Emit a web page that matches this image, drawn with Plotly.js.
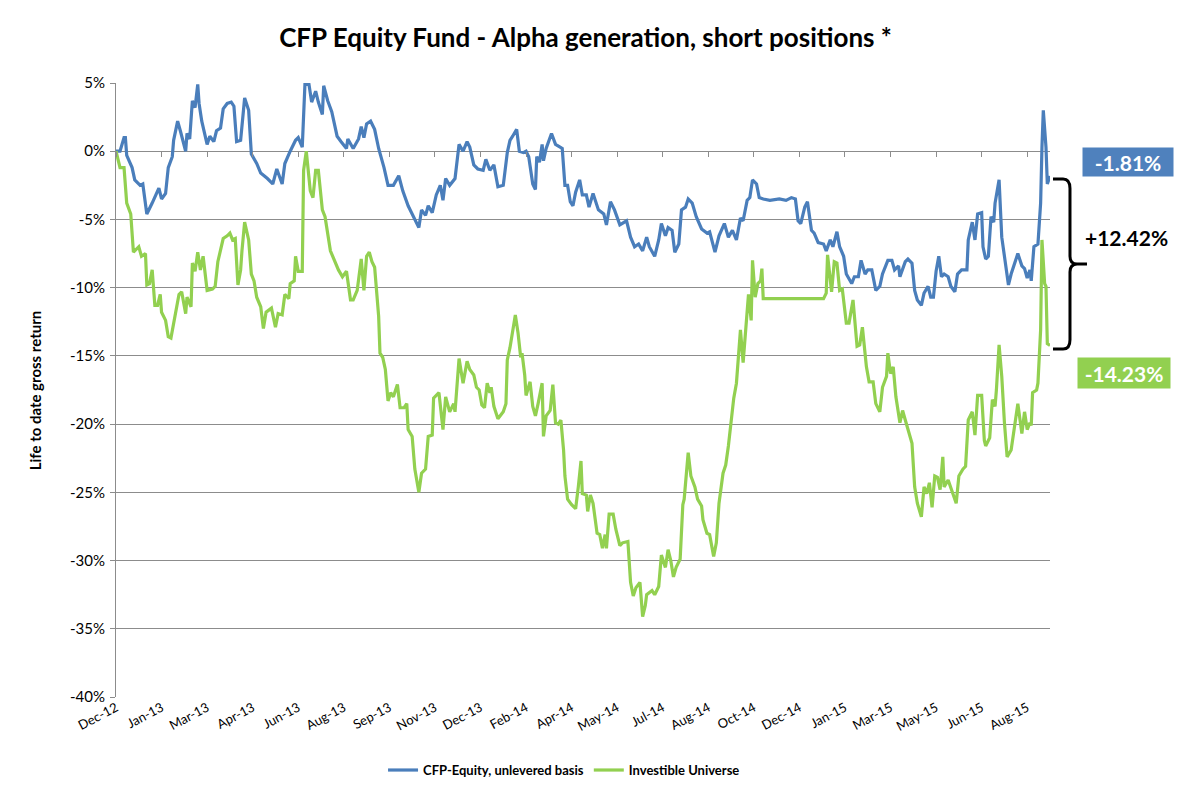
<!DOCTYPE html>
<html>
<head>
<meta charset="utf-8">
<script src="https://cdn.plot.ly/plotly-3.0.1.min.js"></script>
<style>
  html, body { margin: 0; padding: 0; background: #fff; }
  #chart { width: 1195px; height: 789px; outline: 1px solid #d9d9d9; outline-offset: -1px; }
</style>
</head>
<body>
<div id="chart"></div>
<script>
// Trading-day index since start of the series (Dec-12) and life-to-date gross return (%)
const cfpDays = [0,3,6,7,8,12,14,18,20,23,27,32,34,37,39,42,43,46,48,52,53,55,57,59,61,62,64,68,70,73,75,78,80,83,86,88,90,93,96,99,101,105,108,113,117,120,124,126,130,134,136,139,141,144,146,149,151,154,155,158,161,165,168,172,173,177,181,183,185,187,190,193,196,200,203,207,211,214,218,222,226,228,231,233,236,239,242,244,246,249,253,256,259,262,264,267,270,274,276,279,282,285,289,292,294,296,299,301,304,306,308,311,313,314,316,318,319,321,325,328,330,333,335,337,339,341,343,346,348,351,353,356,360,364,366,369,372,376,381,384,387,390,393,396,398,402,405,407,410,412,415,417,420,422,425,427,430,433,437,441,443,447,450,454,457,460,463,466,468,471,473,475,478,480,483,488,495,500,504,507,509,511,514,516,519,521,524,528,530,533,535,538,540,543,545,549,551,554,556,559,561,564,567,570,572,576,579,581,584,585,589,591,594,596,598,601,603,606,608,610,612,614,616,618,621,623,626,628,631,635,636,639,641,643,646,647,649,651,653,655,656,659,661,664,666,668,671,673,676,678,680,682,683,685,688,690,691,692,694,695,697];
const cfpValues = [0,0,1.0,1.0,-0.3,-1.2,-2.1,-2.5,-2.4,-4.6,-3.8,-2.7,-3.5,-3.1,-1.2,-0.4,0.8,2.2,1.5,0,1.3,0.9,3.7,3.2,4.9,3.5,2.2,0.5,1.1,0.7,1.5,1.7,3.1,3.5,3.6,3.3,0.7,0.8,3.9,3.0,-0.2,-0.9,-1.6,-2.0,-2.4,-1.3,-2.4,-0.9,0,0.8,1.0,0.3,4.9,4.9,3.6,4.4,3.6,2.7,4.8,3.7,2.9,1.1,0.7,0.2,0.9,0.2,0.9,1.8,1.0,2.0,2.2,1.6,0.2,-1.2,-2.5,-2.5,-1.8,-2.9,-4.0,-4.8,-5.6,-4.3,-4.7,-4.0,-4.5,-3.2,-2.5,-3.6,-2.0,-2.5,-2.0,0.5,0,0.7,0.3,-1.0,-1.3,-1.4,-0.6,-1.4,-1.0,-2.6,-2.5,-0.1,0.8,1.1,1.6,0,-0.1,0,-0.4,-2.4,-2.8,-0.4,-0.8,0.5,-0.7,0.2,1.3,0.5,0.4,0.2,-2.5,-2.5,-3.7,-4.0,-3.0,-2.1,-3.2,-3.2,-4.1,-3.1,-4.3,-4.6,-5.4,-3.7,-4.3,-5.4,-5.1,-6.3,-7.0,-6.8,-7.3,-6.3,-7.0,-7.7,-6.5,-5.3,-6.2,-5.6,-5.8,-7.4,-6.8,-4.3,-4.1,-3.5,-3.8,-4.8,-5.7,-6.0,-5.9,-7.4,-6.2,-5.3,-6.3,-5.8,-6.5,-4.9,-5.1,-3.6,-3.4,-2.1,-2.4,-3.4,-3.5,-3.6,-3.5,-3.6,-3.4,-3.5,-5.1,-5.3,-4.1,-3.7,-5.8,-6.0,-6.7,-6.8,-7.3,-6.5,-7.0,-5.9,-7.0,-7.7,-9.0,-9.7,-9.2,-9.2,-8.0,-9.0,-8.7,-8.7,-10.2,-9.9,-9.0,-8.0,-8.0,-8.7,-8.4,-9.2,-8.1,-7.9,-8.2,-10.2,-10.9,-11.3,-10.4,-9.9,-10.7,-10.7,-8.8,-7.7,-9.2,-9.0,-9.2,-9.9,-10.3,-9.0,-8.7,-8.7,-6.5,-5.2,-6.5,-4.6,-4.5,-7.0,-7.9,-7.7,-4.8,-5.2,-3.8,-2.1,-6.3,-8.2,-9.8,-9.0,-8.2,-7.5,-8.4,-8.6,-9.3,-8.7,-9.5,-7.0,-6.8,-3.8,0.3,3.0,0.3,-2.4,-1.81];

const univDays = [0,3,6,8,11,12,13,17,19,22,23,25,27,29,31,33,34,37,39,41,43,45,47,49,52,53,56,57,59,61,63,65,68,72,74,76,78,80,83,85,87,89,91,93,94,96,99,101,103,105,108,110,112,116,119,121,124,126,129,130,133,134,136,139,140,142,145,147,149,151,154,156,160,164,166,169,172,175,177,180,183,185,187,189,191,193,196,197,199,201,203,205,207,210,212,215,217,218,221,223,226,228,231,233,236,237,239,241,244,246,249,252,253,254,256,259,262,264,267,269,271,273,275,277,279,280,282,285,289,291,292,294,295,298,300,302,303,305,306,309,311,313,315,318,319,321,324,326,328,330,332,334,335,337,340,343,345,347,348,351,352,354,356,359,361,363,365,366,368,371,373,376,378,382,384,386,388,391,393,395,396,400,402,405,407,410,412,414,416,418,421,423,424,427,429,432,434,437,438,441,443,446,448,450,453,455,457,459,461,463,464,466,468,470,472,474,475,477,479,481,482,483,528,530,531,534,536,538,540,542,545,547,550,553,555,557,560,562,565,567,570,572,575,576,578,580,582,585,587,589,591,594,596,598,601,603,605,607,609,611,613,615,617,618,621,623,627,629,632,634,636,639,641,643,646,648,649,652,654,656,657,659,661,663,665,668,671,673,676,678,680,682,683,684,687,688,690,691,693,694,695,697];
const univValues = [0,-1.2,-1.2,-3.8,-4.6,-5.8,-7.4,-7.0,-7.7,-7.5,-9.8,-9.7,-8.7,-11.3,-11.3,-10.5,-11.8,-12.4,-13.6,-13.7,-12.7,-11.4,-10.5,-10.3,-11.9,-10.7,-11.4,-8.2,-8.8,-7.4,-8.7,-7.7,-10.2,-10.1,-9.9,-8.1,-7.3,-6.4,-6.2,-6.0,-6.5,-6.4,-9.8,-8.7,-7.3,-5.2,-6.5,-9.0,-9.5,-10.7,-11.4,-13.0,-11.8,-11.5,-12.9,-11.9,-12.0,-10.5,-10.8,-9.7,-9.5,-7.7,-8.8,-8.8,-1.4,0,-2.9,-3.4,-1.4,-1.4,-4.3,-4.8,-7.3,-8.2,-8.7,-9.2,-8.8,-10.9,-10.9,-10.2,-7.9,-10.2,-7.7,-7.4,-8.1,-8.5,-12.1,-14.8,-15.1,-16.0,-18.3,-17.7,-18.0,-17.1,-18.8,-18.8,-18.5,-20.4,-20.9,-23.3,-25.0,-23.6,-23.3,-20.9,-20.8,-18.1,-17.9,-17.7,-20.4,-18.0,-19.1,-18.5,-19.1,-17.7,-15.2,-17.0,-15.4,-16.0,-16.4,-17.3,-17.5,-18.6,-18.8,-17.0,-17.7,-17.3,-18.7,-19.6,-19.1,-18.5,-15.3,-14.4,-13.8,-12.0,-13.3,-15.1,-14.8,-16.4,-17.9,-16.9,-18.7,-19.4,-18.5,-17.0,-20.9,-19.4,-19.0,-17.1,-19.9,-20.0,-19.7,-21.9,-23.8,-25.5,-25.9,-26.2,-24.6,-22.7,-25.1,-25.2,-26.4,-25.2,-25.8,-28.0,-28.1,-29.1,-28.1,-29.1,-26.6,-26.6,-27.7,-28.9,-28.7,-28.6,-31.6,-32.6,-32.0,-31.6,-34.1,-33.3,-32.5,-32.2,-32.5,-31.9,-29.6,-30.5,-29.2,-30.0,-31.2,-30.5,-29.9,-25.9,-25.5,-22.1,-23.8,-24.6,-25.5,-26.0,-27.0,-28.0,-28.1,-29.7,-28.7,-25.8,-23.6,-23.0,-21.6,-19.9,-18.1,-17.0,-15.5,-13.1,-15.5,-12.6,-10.5,-12.4,-8.0,-10.7,-9.7,-9.5,-8.6,-10.8,-10.8,-10.4,-7.6,-10.3,-8.1,-8.2,-10.2,-10.1,-12.6,-12.6,-10.9,-14.3,-14.2,-12.9,-15.8,-16.9,-16.9,-18.5,-19.1,-17.3,-16.5,-14.8,-16.3,-15.8,-18.0,-19.9,-19.0,-19.7,-20.4,-21.4,-24.6,-25.8,-26.8,-24.6,-25.1,-24.3,-26.1,-23.8,-23.9,-24.8,-22.4,-24.6,-24.1,-24.7,-25.8,-23.8,-23.3,-23.1,-19.7,-19.1,-20.8,-17.9,-17.9,-21.2,-21.6,-21.0,-18.2,-18.7,-17.5,-14.2,-16.5,-19.9,-22.4,-21.9,-19.9,-18.5,-20.7,-19.1,-20.4,-19.9,-20.1,-17.7,-17.5,-17.0,-13.1,-6.5,-9.7,-9.9,-14.1,-14.23];

const xTickVals = [0,34,68,102,136,170,204,238,272,306,340,374,408,442,476,510,544,578,612,646,680];
const xTickLabels = ['Dec-12','Jan-13','Mar-13','Apr-13','Jun-13','Aug-13','Sep-13','Nov-13','Dec-13','Feb-14','Apr-14','May-14','Jul-14','Aug-14','Oct-14','Dec-14','Jan-15','Mar-15','May-15','Jun-15','Aug-15'];
const yTickVals = [5,0,-5,-10,-15,-20,-25,-30,-35,-40];
const yTickLabels = ['5%','0%','-5%','-10%','-15%','-20%','-25%','-30%','-35%','-40%'];

const seriesNames = ['CFP-Equity, unlevered basis', 'Investible Universe'];
const endLabels = ['-1.81%', '-14.23%'];
const spreadLabel = '+12.42%';

const BLUE = '#4A7EBB';
const GREEN = '#92D050';
const GRID = '#8C8C8C';
const FONT = 'Lato, "Open Sans", sans-serif';

const XMAX = 697;
const zeroPos = (0 - (-40)) / (5 - (-40));

const traces = [
  { x: cfpDays, y: cfpValues, name: seriesNames[0], type: 'scatter', mode: 'lines',
    line: { color: BLUE, width: 3.2 }, hoverinfo: 'x+y' },
  { x: univDays, y: univValues, name: seriesNames[1], type: 'scatter', mode: 'lines',
    line: { color: GREEN, width: 3.2 }, hoverinfo: 'x+y' },
  { x: [0], y: [null], xaxis: 'x2', showlegend: false, hoverinfo: 'skip', mode: 'lines' }
];

const bracket = 'M 1.0032,0.8436 L 1.014,0.8436 Q 1.0214,0.8436 1.0214,0.828 L 1.0214,0.718 Q 1.0214,0.7052 1.029,0.7052 L 1.0396,0.7052 ' +
                'M 1.029,0.7052 Q 1.0214,0.7052 1.0214,0.692 L 1.0214,0.582 Q 1.0214,0.5668 1.014,0.5668 L 1.0032,0.5668';

const layout = {
  width: 1195, height: 789,
  paper_bgcolor: '#ffffff', plot_bgcolor: '#ffffff',
  margin: { l: 116, r: 145, t: 83, b: 92 },
  font: { family: FONT, color: '#000' },
  title: { text: '<b>CFP Equity Fund - Alpha generation, short positions *</b>',
           font: { family: FONT, size: 26, color: '#000' },
           xref: 'container', yref: 'container', x: 0.49, xanchor: 'center', y: 0.952, yanchor: 'middle' },
  xaxis: {
    range: [0, XMAX], tickmode: 'array', tickvals: xTickVals, ticktext: xTickLabels,
    tickangle: -28, tickfont: { family: FONT, size: 13, color: '#000' }, automargin: false,
    showgrid: false, zeroline: false, showline: false, ticks: '', fixedrange: true
  },
  xaxis2: {
    overlaying: 'x', anchor: 'free', position: zeroPos, side: 'bottom', automargin: false,
    range: [0, XMAX], tickmode: 'array', tickvals: xTickVals,
    showticklabels: false, ticks: 'outside', ticklen: 5, tickwidth: 1, tickcolor: GRID,
    showgrid: false, zeroline: false, showline: false
  },
  yaxis: {
    range: [-40, 5], tickmode: 'array', tickvals: yTickVals, ticktext: yTickLabels, automargin: false,
    tickfont: { family: FONT, size: 15, color: '#000' },
    showgrid: true, gridcolor: GRID, gridwidth: 1,
    zeroline: true, zerolinecolor: GRID, zerolinewidth: 1,
    showline: true, linecolor: GRID, linewidth: 1,
    ticks: 'outside', ticklen: 5, tickcolor: GRID, ticklabelstandoff: 2
  },
  showlegend: true,
  legend: { orientation: 'h', xref: 'container', yref: 'container', x: 0.472, xanchor: 'center',
            y: 0.024, yanchor: 'middle',
            font: { family: FONT, size: 13, color: '#000', weight: 'bold' }, itemwidth: 30, tracegroupgap: 0 },
  shapes: [
    { type: 'path', xref: 'paper', yref: 'paper', path: bracket, line: { color: '#000', width: 3 } }
  ],
  annotations: [
    { xref: 'paper', yref: 'paper', x: -0.0864, y: 0.5, xanchor: 'center', yanchor: 'middle',
      text: '<b>Life to date gross return</b>',
      textangle: -90, showarrow: false, font: { family: FONT, size: 15, color: '#000' } },
    { xref: 'paper', yref: 'paper', x: 1.0835, y: 0.871, xanchor: 'center', yanchor: 'middle',
      text: '<b>' + endLabels[0] + '</b>',
      showarrow: false, bgcolor: '#4F81BD', font: { family: FONT, size: 21, color: '#fff' },
      width: 88, height: 26 },
    { xref: 'paper', yref: 'paper', x: 1.0792, y: 0.5277, xanchor: 'center', yanchor: 'middle',
      text: '<b>' + endLabels[1] + '</b>',
      showarrow: false, bgcolor: GREEN, font: { family: FONT, size: 21, color: '#fff' },
      width: 90, height: 28 },
    { xref: 'paper', yref: 'paper', x: 1.0817, y: 0.749, xanchor: 'center', yanchor: 'middle',
      text: '<b>' + spreadLabel + '</b>',
      showarrow: false, font: { family: FONT, size: 21, color: '#000' } }
  ]
};

Plotly.newPlot('chart', traces, layout, { displayModeBar: false, staticPlot: true });
</script>
</body>
</html>
